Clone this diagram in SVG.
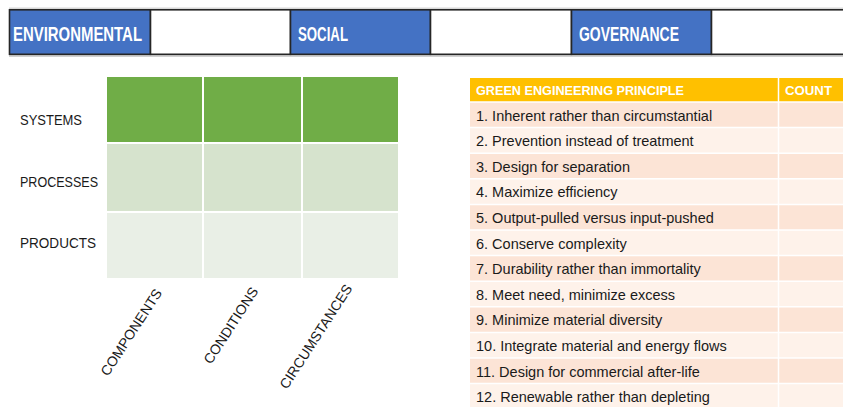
<svg xmlns="http://www.w3.org/2000/svg" width="843" height="407" viewBox="0 0 843 407">
  <style>
    .band { stroke: #262626; stroke-width: 1.6; }
    .blue { fill: #4472C4; }
    .blank { fill: #FFFFFF; }
    .pillar { font-family: "Liberation Sans", Arial, sans-serif; font-weight: bold; font-size: 21px; fill: #FFFFFF; }
    .lbl { font-family: "Liberation Sans", Arial, sans-serif; font-size: 14px; fill: #1A1A1A; }
    .side { font-size: 15px; }
    .cell { stroke: #FFFFFF; stroke-width: 2; }
    .hdr { font-family: "Liberation Sans", Arial, sans-serif; font-weight: bold; font-size: 12.5px; fill: #FFFFFF; }
    .row { font-family: "Liberation Sans", Arial, sans-serif; font-size: 14.5px; fill: #1A1A1A; }
    .odd { fill: #FCE4D6; }
    .even { fill: #FEF2EA; }
    .sep { stroke: #FFFFFF; stroke-width: 1.5; }
  </style>

  <!-- ESG header band -->
  <g id="esg-band">
    <rect x="9" y="55" width="834" height="2" fill="#D0D0D0"/>
    <rect x="9" y="7.5" width="834" height="1.5" fill="#D8D8D8"/>
    <rect class="band blue" x="9.5" y="9.8" width="141" height="44.5"/>
    <rect class="band blank" x="150.5" y="9.8" width="140" height="44.5"/>
    <rect class="band blue" x="290.5" y="9.8" width="140" height="44.5"/>
    <rect class="band blank" x="430.5" y="9.8" width="141" height="44.5"/>
    <rect class="band blue" x="571.5" y="9.8" width="140" height="44.5"/>
    <rect class="band blank" x="711.5" y="9.8" width="140" height="44.5"/>
    <text class="pillar" x="13" y="40.5" textLength="129" lengthAdjust="spacingAndGlyphs">ENVIRONMENTAL</text>
    <text class="pillar" x="298" y="40.5" textLength="50" lengthAdjust="spacingAndGlyphs">SOCIAL</text>
    <text class="pillar" x="579" y="40.5" textLength="100" lengthAdjust="spacingAndGlyphs">GOVERNANCE</text>
  </g>

  <!-- Level / scope matrix -->
  <g id="matrix">
    <rect class="cell" x="106" y="76" width="97" height="67" fill="#70AD47"/>
    <rect class="cell" x="203" y="76" width="99" height="67" fill="#70AD47"/>
    <rect class="cell" x="302" y="76" width="97" height="67" fill="#70AD47"/>
    <rect class="cell" x="106" y="143" width="97" height="69" fill="#D6E3CD"/>
    <rect class="cell" x="203" y="143" width="99" height="69" fill="#D6E3CD"/>
    <rect class="cell" x="302" y="143" width="97" height="69" fill="#D6E3CD"/>
    <rect class="cell" x="106" y="212" width="97" height="67" fill="#E9EFE6"/>
    <rect class="cell" x="203" y="212" width="99" height="67" fill="#E9EFE6"/>
    <rect class="cell" x="302" y="212" width="97" height="67" fill="#E9EFE6"/>
  </g>

  <g id="row-labels">
    <text class="lbl side" x="20" y="125" textLength="62" lengthAdjust="spacingAndGlyphs">SYSTEMS</text>
    <text class="lbl side" x="20" y="187" textLength="78" lengthAdjust="spacingAndGlyphs">PROCESSES</text>
    <text class="lbl side" x="20" y="248" textLength="76" lengthAdjust="spacingAndGlyphs">PRODUCTS</text>
  </g>

  <g id="column-labels">
    <text class="lbl" transform="translate(108,377) rotate(-57)">COMPONENTS</text>
    <text class="lbl" transform="translate(211,365) rotate(-57)">CONDITIONS</text>
    <text class="lbl" transform="translate(287,390) rotate(-57)">CIRCUMSTANCES</text>
  </g>

  <!-- Green engineering principles table -->
  <g id="principles-table">
    <rect x="470" y="78" width="373" height="24" fill="#FFC000"/>
    <text class="hdr" x="476" y="95" textLength="208" lengthAdjust="spacingAndGlyphs">GREEN ENGINEERING PRINCIPLE</text>
    <text class="hdr" x="785" y="95" textLength="47" lengthAdjust="spacingAndGlyphs">COUNT</text>

    <rect class="odd" x="470" y="102" width="373" height="25.6"/>
    <rect class="even" x="470" y="127.6" width="373" height="25.6"/>
    <rect class="odd" x="470" y="153.2" width="373" height="25.6"/>
    <rect class="even" x="470" y="178.8" width="373" height="25.6"/>
    <rect class="odd" x="470" y="204.4" width="373" height="25.6"/>
    <rect class="even" x="470" y="230" width="373" height="25.6"/>
    <rect class="odd" x="470" y="255.6" width="373" height="25.6"/>
    <rect class="even" x="470" y="281.2" width="373" height="25.6"/>
    <rect class="odd" x="470" y="306.8" width="373" height="25.6"/>
    <rect class="even" x="470" y="332.4" width="373" height="25.6"/>
    <rect class="odd" x="470" y="358" width="373" height="25.6"/>
    <rect class="even" x="470" y="383.6" width="373" height="25.6"/>

    <g class="sep">
      <line x1="778.5" y1="78" x2="778.5" y2="407"/>
      <line x1="470" y1="102" x2="843" y2="102"/>
      <line x1="470" y1="127.6" x2="843" y2="127.6"/>
      <line x1="470" y1="153.2" x2="843" y2="153.2"/>
      <line x1="470" y1="178.8" x2="843" y2="178.8"/>
      <line x1="470" y1="204.4" x2="843" y2="204.4"/>
      <line x1="470" y1="230" x2="843" y2="230"/>
      <line x1="470" y1="255.6" x2="843" y2="255.6"/>
      <line x1="470" y1="281.2" x2="843" y2="281.2"/>
      <line x1="470" y1="306.8" x2="843" y2="306.8"/>
      <line x1="470" y1="332.4" x2="843" y2="332.4"/>
      <line x1="470" y1="358" x2="843" y2="358"/>
      <line x1="470" y1="383.6" x2="843" y2="383.6"/>
    </g>

    <text class="row" x="476" y="120.5">1. Inherent rather than circumstantial</text>
    <text class="row" x="476" y="146.1">2. Prevention instead of treatment</text>
    <text class="row" x="476" y="171.7">3. Design for separation</text>
    <text class="row" x="476" y="197.3">4. Maximize efficiency</text>
    <text class="row" x="476" y="222.9">5. Output-pulled versus input-pushed</text>
    <text class="row" x="476" y="248.5">6. Conserve complexity</text>
    <text class="row" x="476" y="274.1">7. Durability rather than immortality</text>
    <text class="row" x="476" y="299.7">8. Meet need, minimize excess</text>
    <text class="row" x="476" y="325.3">9. Minimize material diversity</text>
    <text class="row" x="476" y="350.9">10. Integrate material and energy flows</text>
    <text class="row" x="476" y="376.5">11. Design for commercial after-life</text>
    <text class="row" x="476" y="402.1">12. Renewable rather than depleting</text>
  </g>
</svg>
